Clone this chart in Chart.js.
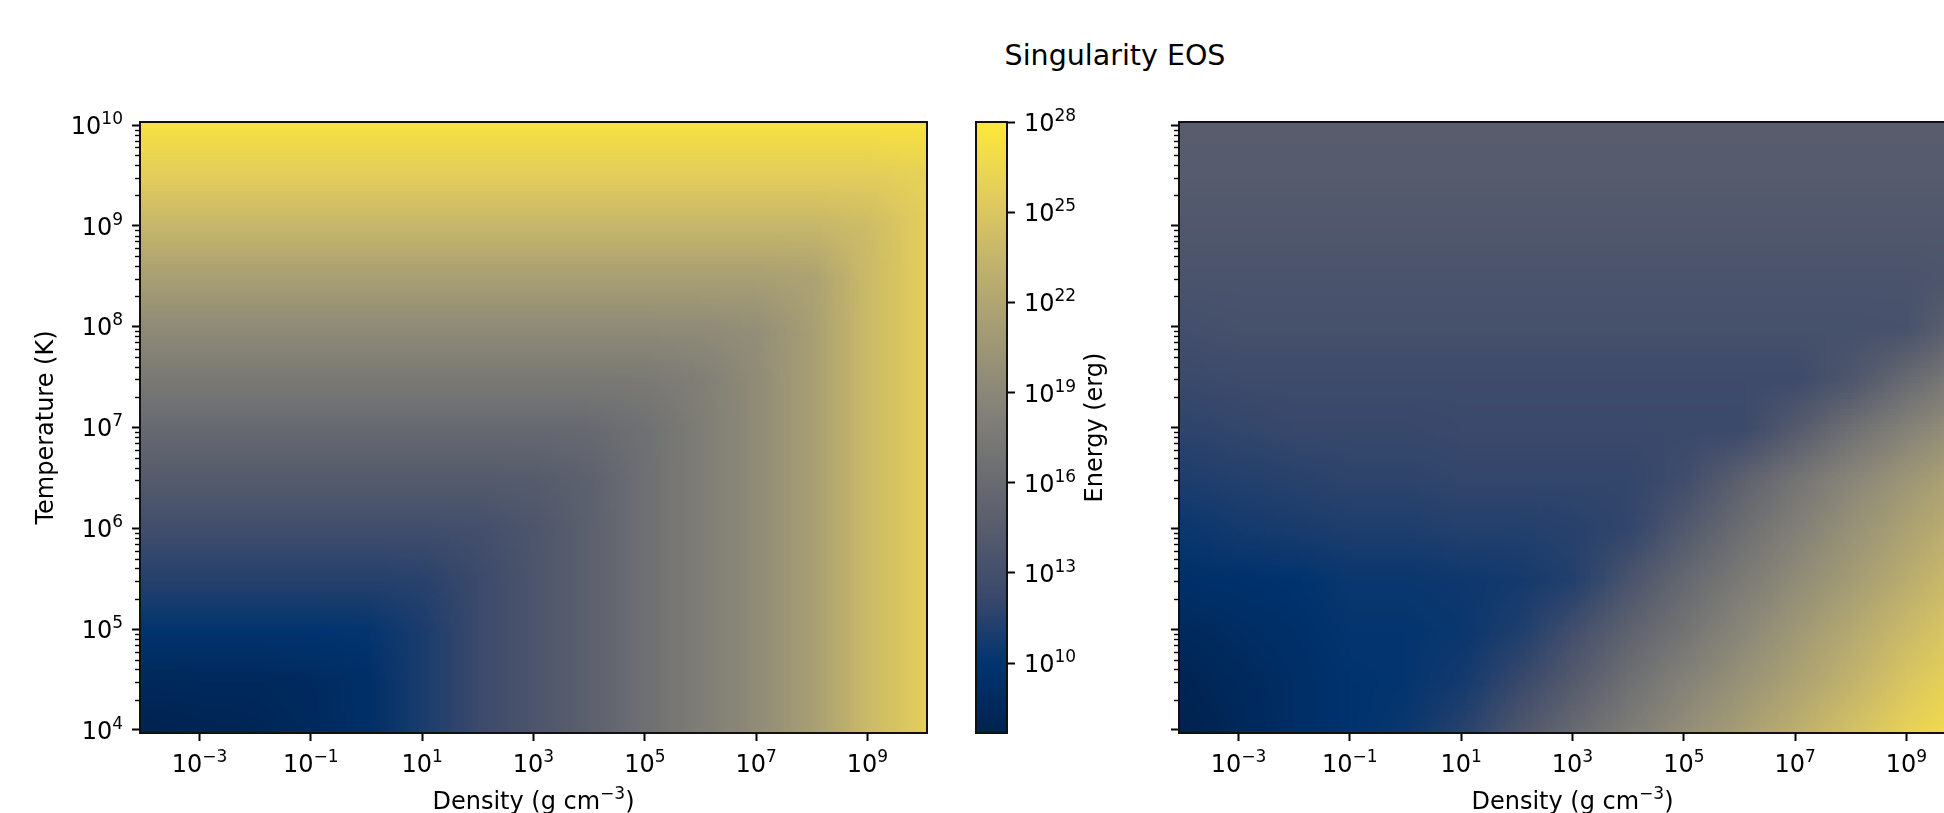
<!DOCTYPE html>
<html>
<head>
<meta charset="utf-8">
<script src="https://cdn.jsdelivr.net/npm/chart.js@4.4.1/dist/chart.umd.min.js"></script>
<style>
    html, body { margin: 0; padding: 0; background: #fff; overflow: hidden; }
    body { width: 1944px; height: 813px; position: relative; font-family: 'DejaVu Sans', sans-serif; }
    .panel { position: absolute; top: 0; height: 813px; }
    #title { position: absolute; left: 815px; top: 39px; width: 600px; text-align: center;
             font-size: 28.5px; line-height: 34px; color: #000; }
</style>
</head>
<body>
<div id="title">Singularity EOS</div>
<div class="panel" style="left:0;width:960px"><canvas id="leftChart"></canvas></div>
<div class="panel" style="left:960px;width:200px"><canvas id="cbarChart"></canvas></div>
<div class="panel" style="left:1160px;width:840px"><canvas id="rightChart"></canvas></div>
<script>
// grid columns: log10 density (g cm^-3); grid rows: log10 temperature (K), bottom row first
const densityLog = [-4, -3, -2, -1, 0, 1, 2, 3, 4, 5, 6, 7, 8, 9, 10];
const temperatureLog = [4, 4.5, 5, 5.5, 6, 6.5, 7, 7.5, 8, 8.5, 9, 9.5, 10];

// left panel: log10 energy (erg)
const energyLog = [
    [7.8, 8.1, 8.24, 8.74, 9.41, 11.0, 12.4, 13.7, 15.0, 16.6, 18.0, 19.5, 21.4, 24.0, 25.7],
    [8.56, 8.6, 8.65, 8.91, 9.45, 11.0, 12.4, 13.7, 15.0, 16.6, 18.0, 19.5, 21.4, 24.0, 25.7],
    [10.0, 10.0, 10.01, 10.02, 10.1, 11.04, 12.4, 13.7, 15.0, 16.6, 18.0, 19.5, 21.4, 24.0, 25.7],
    [11.4, 11.4, 11.4, 11.4, 11.4, 11.55, 12.44, 13.7, 15.0, 16.6, 18.0, 19.5, 21.4, 24.0, 25.7],
    [12.8, 12.8, 12.8, 12.8, 12.8, 12.81, 12.95, 13.75, 15.0, 16.6, 18.0, 19.5, 21.4, 24.0, 25.7],
    [14.3, 14.3, 14.3, 14.3, 14.3, 14.3, 14.3, 14.4, 15.08, 16.6, 18.0, 19.5, 21.4, 24.0, 25.7],
    [15.9, 15.9, 15.9, 15.9, 15.9, 15.9, 15.9, 15.9, 15.95, 16.68, 18.0, 19.5, 21.4, 24.0, 25.7],
    [17.6, 17.6, 17.6, 17.6, 17.6, 17.6, 17.6, 17.6, 17.6, 17.64, 18.15, 19.51, 21.4, 24.0, 25.7],
    [19.4, 19.4, 19.4, 19.4, 19.4, 19.4, 19.4, 19.4, 19.4, 19.4, 19.42, 19.75, 21.4, 24.0, 25.7],
    [21.4, 21.4, 21.4, 21.4, 21.4, 21.4, 21.4, 21.4, 21.4, 21.4, 21.4, 21.41, 21.7, 24.0, 25.7],
    [23.6, 23.6, 23.6, 23.6, 23.6, 23.6, 23.6, 23.6, 23.6, 23.6, 23.6, 23.6, 23.6, 24.15, 25.7],
    [25.6, 25.6, 25.6, 25.6, 25.6, 25.6, 25.6, 25.6, 25.6, 25.6, 25.6, 25.6, 25.6, 25.61, 25.95],
    [27.4, 27.4, 27.4, 27.4, 27.4, 27.4, 27.4, 27.4, 27.4, 27.4, 27.4, 27.4, 27.4, 27.4, 27.41]
];
const energyColorLog = [7.67, 28.02];

// right panel: level on its own colour scale (its colour bar is outside the picture)
const rightLevel = [
    [0.00, 0.04, 0.08, 0.11, 0.13, 0.19, 0.30, 0.41, 0.50, 0.59, 0.67, 0.75, 0.83, 0.90, 0.96],
    [0.02, 0.05, 0.08, 0.11, 0.12, 0.15, 0.22, 0.33, 0.44, 0.53, 0.61, 0.69, 0.77, 0.85, 0.92],
    [0.05, 0.07, 0.09, 0.12, 0.12, 0.13, 0.17, 0.26, 0.37, 0.46, 0.55, 0.64, 0.72, 0.80, 0.87],
    [0.09, 0.10, 0.11, 0.13, 0.13, 0.14, 0.15, 0.18, 0.29, 0.40, 0.49, 0.58, 0.66, 0.74, 0.82],
    [0.13, 0.15, 0.16, 0.17, 0.17, 0.18, 0.18, 0.19, 0.21, 0.32, 0.43, 0.52, 0.61, 0.69, 0.77],
    [0.17, 0.18, 0.19, 0.20, 0.20, 0.21, 0.21, 0.21, 0.21, 0.25, 0.36, 0.46, 0.55, 0.63, 0.71],
    [0.20, 0.21, 0.22, 0.22, 0.22, 0.23, 0.23, 0.23, 0.23, 0.23, 0.23, 0.33, 0.44, 0.53, 0.61],
    [0.23, 0.24, 0.24, 0.24, 0.24, 0.24, 0.24, 0.24, 0.24, 0.24, 0.24, 0.24, 0.30, 0.41, 0.50],
    [0.26, 0.27, 0.27, 0.27, 0.27, 0.27, 0.27, 0.27, 0.27, 0.27, 0.27, 0.27, 0.27, 0.28, 0.38],
    [0.29, 0.29, 0.29, 0.29, 0.29, 0.29, 0.29, 0.29, 0.29, 0.29, 0.29, 0.29, 0.29, 0.29, 0.30],
    [0.31, 0.31, 0.31, 0.31, 0.31, 0.31, 0.31, 0.31, 0.31, 0.31, 0.31, 0.31, 0.31, 0.31, 0.31],
    [0.33, 0.33, 0.33, 0.33, 0.33, 0.33, 0.33, 0.33, 0.33, 0.33, 0.33, 0.33, 0.33, 0.33, 0.33],
    [0.34, 0.34, 0.34, 0.34, 0.34, 0.34, 0.34, 0.34, 0.34, 0.34, 0.34, 0.34, 0.34, 0.34, 0.34]
];
const rightColorRange = [0, 1];

const densityTicks = [1e-3, 1e-1, 1e1, 1e3, 1e5, 1e7, 1e9];
const densityTickLabels = ['10^−3', '10^−1', '10^1', '10^3', '10^5', '10^7', '10^9'];
const temperatureTicks = [1e4, 1e5, 1e6, 1e7, 1e8, 1e9, 1e10];
const temperatureTickLabels = ['10^4', '10^5', '10^6', '10^7', '10^8', '10^9', '10^10'];
const energyTicks = [1e10, 1e13, 1e16, 1e19, 1e22, 1e25, 1e28];
const energyTickLabels = ['10^10', '10^13', '10^16', '10^19', '10^22', '10^25', '10^28'];

const densityRange = [-4.07, 10.07];
const temperatureRange = [3.97, 10.03];

// cividis
const cividisStops = ['#00224E', '#00336F', '#39486B', '#575C6D', '#707173',
                      '#8A8779', '#A69D75', '#C4B56C', '#E4CF5B', '#FEE838'];
const stopRgb = cividisStops.map(h => [1, 3, 5].map(k => parseInt(h.substr(k, 2), 16)));
const cividis = (f) => {
    f = Math.min(1, Math.max(0, f));
    const p = f * (stopRgb.length - 1);
    const i = Math.min(Math.floor(p), stopRgb.length - 2);
    const t = p - i;
    return stopRgb[i].map((a, k) => Math.round(a + (stopRgb[i + 1][k] - a) * t));
};

const minorY = [];
for (let k = 4; k < 10; k++) for (let m = 2; m <= 9; m++) minorY.push(m * 10 ** k);

const toPoints = (rows) => rows.flatMap((row, j) =>
    row.map((v, i) => ({ x: 10 ** densityLog[i], y: 10 ** temperatureLog[j], v })));

const BASE_FONT = "24px 'DejaVu Sans'";
const SUP_FONT = "17px 'DejaVu Sans'";

// text with superscript parts, e.g. 10^5
const drawRich = (ctx, parts, x, baseline, align) => {
    const widths = parts.map(p => {
        ctx.font = p.sup ? SUP_FONT : BASE_FONT;
        return ctx.measureText(p.text).width;
    });
    const total = widths.reduce((a, b) => a + b, 0);
    let cx = align === 'center' ? x - total / 2 : align === 'right' ? x - total : x;
    ctx.save();
    ctx.fillStyle = '#000';
    ctx.textAlign = 'left';
    ctx.textBaseline = 'alphabetic';
    parts.forEach((p, k) => {
        ctx.font = p.sup ? SUP_FONT : BASE_FONT;
        ctx.fillText(p.text, cx, p.sup ? baseline - 10 : baseline);
        cx += widths[k];
    });
    ctx.restore();
};

const powParts = (label) => {
    const [base, exp] = label.split('^');
    return [{ text: base }, { text: exp, sup: true }];
};

const heatmap = {
    id: 'heatmap',
    beforeDatasetsDraw(chart, args, opts) {
        const pts = chart.data.datasets[0].data;
        if (!opts.nx || !pts.length) return;
        const { ctx, chartArea, scales: { x, y } } = chart;
        const nx = opts.nx, ny = opts.ny;
        const off = document.createElement('canvas');
        off.width = nx; off.height = ny;
        const octx = off.getContext('2d');
        const img = octx.createImageData(nx, ny);
        pts.forEach((p, idx) => {
            const i = idx % nx, j = Math.floor(idx / nx);
            const c = cividis((p.v - opts.lo) / (opts.hi - opts.lo));
            const o = ((ny - 1 - j) * nx + i) * 4;
            img.data[o] = c[0]; img.data[o + 1] = c[1]; img.data[o + 2] = c[2]; img.data[o + 3] = 255;
        });
        octx.putImageData(img, 0, 0);

        const px0 = x.getPixelForValue(pts[0].x), px1 = x.getPixelForValue(pts[nx - 1].x);
        const sx = (px1 - px0) / (nx - 1);
        const pyB = y.getPixelForValue(pts[0].y), pyT = y.getPixelForValue(pts[(ny - 1) * nx].y);
        const sy = (pyB - pyT) / (ny - 1);

        ctx.save();
        ctx.beginPath();
        ctx.rect(chartArea.left, chartArea.top, chartArea.right - chartArea.left, chartArea.bottom - chartArea.top);
        ctx.clip();
        ctx.imageSmoothingEnabled = true;
        ctx.imageSmoothingQuality = 'low';
        ctx.drawImage(off, px0 - sx / 2, pyT - sy / 2, sx * nx, sy * ny);
        ctx.restore();
    }
};

const colorbar = {
    id: 'colorbar',
    beforeDatasetsDraw(chart, args, opts) {
        if (opts.lo === undefined) return;
        const { ctx, chartArea, scales: { y } } = chart;
        for (let py = Math.floor(chartArea.top); py < chartArea.bottom; py++) {
            const lv = Math.log10(y.getValueForPixel(py + 0.5));
            const c = cividis((lv - opts.lo) / (opts.hi - opts.lo));
            ctx.fillStyle = `rgb(${c[0]},${c[1]},${c[2]})`;
            ctx.fillRect(chartArea.left, py, chartArea.right - chartArea.left, 1);
        }
        ctx.save();
        ctx.translate(chartArea.right + 89, (chartArea.top + chartArea.bottom) / 2);
        ctx.rotate(-Math.PI / 2);
        ctx.font = BASE_FONT;
        ctx.fillStyle = '#000';
        ctx.textAlign = 'center';
        ctx.textBaseline = 'middle';
        ctx.fillText(opts.label, 0, 0);
        ctx.restore();
    }
};

const frame = {
    id: 'frame',
    afterDatasetsDraw(chart) {
        const { ctx, chartArea: a } = chart;
        ctx.save();
        ctx.strokeStyle = '#111';
        ctx.lineWidth = 2;
        ctx.strokeRect(a.left, a.top, a.right - a.left, a.bottom - a.top);
        ctx.restore();
    }
};

const minorTicks = {
    id: 'minorTicks',
    afterDraw(chart, args, opts) {
        if (!opts.values) return;
        const { ctx, chartArea, scales: { y } } = chart;
        ctx.save();
        ctx.strokeStyle = '#000';
        ctx.lineWidth = 1.4;
        opts.values.forEach(v => {
            const py = Math.round(y.getPixelForValue(v)) + 0.5;
            if (py < chartArea.top || py > chartArea.bottom) return;
            ctx.beginPath();
            ctx.moveTo(chartArea.left - 5, py);
            ctx.lineTo(chartArea.left, py);
            ctx.stroke();
        });
        ctx.restore();
    }
};

// tick labels as powers of ten, plus the density axis title
const powerLabels = {
    id: 'powerLabels',
    afterDraw(chart, args, opts) {
        const { ctx, chartArea } = chart;
        (opts.axes || []).forEach(a => {
            const scale = chart.scales[a.id];
            scale.ticks.forEach((t, i) => {
                const parts = powParts(a.labels[i]);
                const p = scale.getPixelForValue(t.value);
                if (scale.isHorizontal()) drawRich(ctx, parts, p, scale.top + 38.5, 'center');
                else if (scale.position === 'left') drawRich(ctx, parts, scale.right - 17, p + 8.7, 'right');
                else drawRich(ctx, parts, scale.left + 17, p + 8.7, 'left');
            });
        });
        if (opts.xTitle) {
            drawRich(ctx, opts.xTitle, (chartArea.left + chartArea.right) / 2, chartArea.bottom + 76, 'center');
        }
    }
};

Chart.defaults.font.family = "'DejaVu Sans'";
Chart.defaults.font.size = 24;
Chart.defaults.color = '#000';

const tickGrid = { drawOnChartArea: false, drawTicks: true, tickLength: 8, tickWidth: 2, tickColor: '#000' };
const densityTitle = [{ text: 'Density (g cm' }, { text: '−3', sup: true }, { text: ')' }];

const densityAxis = {
    type: 'logarithmic',
    min: 10 ** densityRange[0],
    max: 10 ** densityRange[1],
    afterBuildTicks: (s) => { s.ticks = densityTicks.map(v => ({ value: v })); },
    afterFit: (s) => { s.height = 80; },
    ticks: { autoSkip: false, maxRotation: 0, minRotation: 0, padding: 8, callback: () => '' },
    grid: tickGrid,
    border: { display: false }
};

const temperatureAxis = (width, showTitle) => ({
    type: 'logarithmic',
    min: 10 ** temperatureRange[0],
    max: 10 ** temperatureRange[1],
    afterBuildTicks: (s) => { s.ticks = temperatureTicks.map(v => ({ value: v })); },
    afterFit: (s) => { s.width = width; },
    ticks: { autoSkip: false, padding: 8, callback: () => '' },
    grid: tickGrid,
    border: { display: false },
    title: { display: showTitle, text: 'Temperature (K)', font: { size: 24, lineHeight: 1 },
             padding: { top: 35, bottom: 0 } }
});

const baseOptions = (padding) => ({
    responsive: true,
    maintainAspectRatio: false,
    animation: false,
    layout: { padding },
    plugins: { legend: { display: false }, tooltip: { enabled: false } }
});

const leftOptions = baseOptions({ top: 122, right: 33, bottom: 0, left: 0 });
leftOptions.scales = { x: densityAxis, y: temperatureAxis(140, true) };
leftOptions.plugins.heatmap = { nx: densityLog.length, ny: temperatureLog.length,
                                lo: energyColorLog[0], hi: energyColorLog[1] };
leftOptions.plugins.minorTicks = { values: minorY };
leftOptions.plugins.powerLabels = {
    axes: [{ id: 'x', labels: densityTickLabels }, { id: 'y', labels: temperatureTickLabels }],
    xTitle: densityTitle
};

new Chart(document.getElementById('leftChart'), {
    type: 'scatter',
    data: { datasets: [{ data: toPoints(energyLog), pointRadius: 0 }] },
    options: leftOptions,
    plugins: [heatmap, frame, minorTicks, powerLabels]
});

const cbarOptions = baseOptions({ top: 122, right: 0, bottom: 80, left: 16 });
cbarOptions.scales = {
    x: { type: 'linear', display: false, min: 0, max: 1 },
    y: {
        type: 'logarithmic',
        position: 'right',
        min: 10 ** energyColorLog[0],
        max: 10 ** energyColorLog[1],
        afterBuildTicks: (s) => { s.ticks = energyTicks.map(v => ({ value: v })); },
        afterFit: (s) => { s.width = 153; },
        ticks: { autoSkip: false, padding: 8, callback: () => '' },
        grid: tickGrid,
        border: { display: false }
    }
};
cbarOptions.plugins.colorbar = { lo: energyColorLog[0], hi: energyColorLog[1], label: 'Energy (erg)' };
cbarOptions.plugins.powerLabels = { axes: [{ id: 'y', labels: energyTickLabels }] };

new Chart(document.getElementById('cbarChart'), {
    type: 'scatter',
    data: { datasets: [{ data: [], pointRadius: 0 }] },
    options: cbarOptions,
    plugins: [colorbar, frame, powerLabels]
});

const rightOptions = baseOptions({ top: 122, right: 34, bottom: 0, left: 0 });
rightOptions.scales = { x: densityAxis, y: temperatureAxis(19, false) };
rightOptions.plugins.heatmap = { nx: densityLog.length, ny: temperatureLog.length,
                                 lo: rightColorRange[0], hi: rightColorRange[1] };
rightOptions.plugins.minorTicks = { values: minorY };
rightOptions.plugins.powerLabels = {
    axes: [{ id: 'x', labels: densityTickLabels }],
    xTitle: densityTitle
};

new Chart(document.getElementById('rightChart'), {
    type: 'scatter',
    data: { datasets: [{ data: toPoints(rightLevel), pointRadius: 0 }] },
    options: rightOptions,
    plugins: [heatmap, frame, minorTicks, powerLabels]
});
</script>
</body>
</html>
